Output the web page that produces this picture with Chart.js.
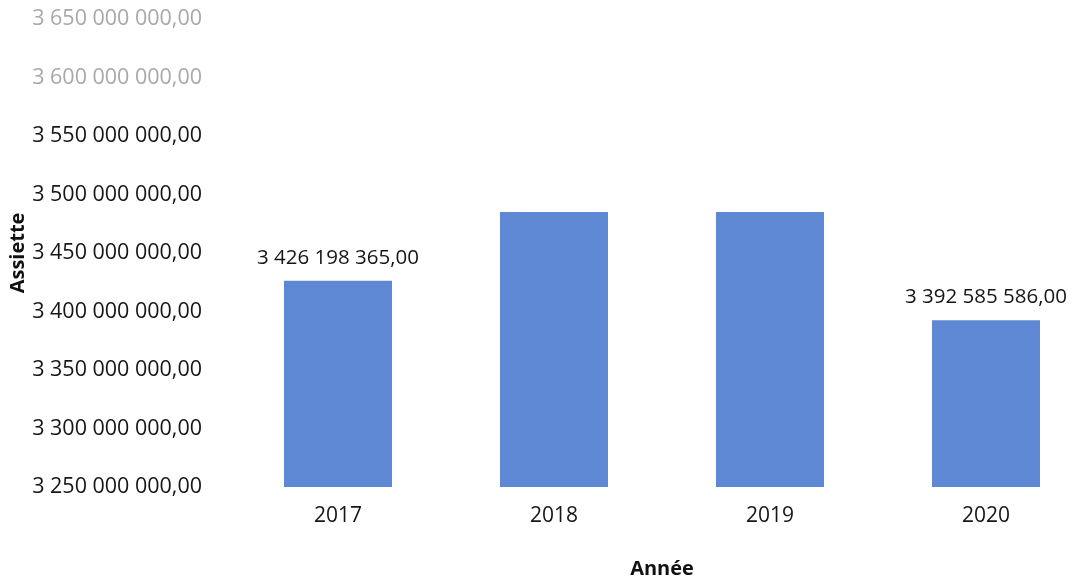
<!DOCTYPE html>
<html lang="fr">
<head>
<meta charset="utf-8">
<title>Assiette par année</title>
<script src="https://cdn.jsdelivr.net/npm/chart.js@4.4.1/dist/chart.umd.min.js"></script>
<style>
  html, body { margin: 0; padding: 0; background: #fff; overflow: hidden; }
  #wrap { width: 1094px; height: 581px; position: relative; }
</style>
</head>
<body>
<div id="wrap"><canvas id="assietteChart"></canvas></div>
<script>
// --- data ---
const annees = ['2017', '2018', '2019', '2020'];
const assiette = [3426198365, 3485000000, 3485000000, 3392585586];
// value labels printed above the bars (null = not printed)
const etiquettes = [3426198365, null, null, 3392585586];
const axeMin = 3250000000;
const axeMax = 3650000000;
const axePas = 50000000;

// 3426198365 -> "3 426 198 365,00"
function formatFr(v) {
  const parts = v.toFixed(2).split('.');
  return parts[0].replace(/\B(?=(\d{3})+(?!\d))/g, ' ') + ',' + parts[1];
}

// draws the value text centred above each bar
const valueLabels = {
  id: 'valueLabels',
  afterDatasetsDraw(chart) {
    const ctx = chart.ctx;
    const meta = chart.getDatasetMeta(0);
    ctx.save();
    ctx.font = '20.5px "Open Sans", sans-serif';
    ctx.fillStyle = '#161616';
    ctx.textAlign = 'center';
    ctx.textBaseline = 'middle';
    meta.data.forEach((bar, i) => {
      if (etiquettes[i] == null) return;
      ctx.fillText(formatFr(etiquettes[i]), bar.x, bar.y - 23);
    });
    ctx.restore();
  }
};

const ctx = document.getElementById('assietteChart').getContext('2d');
new Chart(ctx, {
  type: 'bar',
  data: {
    labels: annees,
    datasets: [{
      label: 'Assiette',
      data: assiette,
      backgroundColor: '#5f88d4',
      borderWidth: 0,
      categoryPercentage: 1,
      barPercentage: 0.5
    }]
  },
  options: {
    responsive: true,
    maintainAspectRatio: false,
    animation: false,
    layout: { padding: { top: 2, right: 0, bottom: 0, left: 0 } },
    plugins: {
      legend: { display: false },
      tooltip: { enabled: false }
    },
    scales: {
      x: {
        grid: { display: false, drawTicks: false },
        border: { display: false },
        ticks: {
          color: '#161616',
          font: { family: 'Open Sans', size: 21 },
          padding: 16
        },
        title: {
          display: true,
          text: 'Année',
          color: '#111',
          font: { family: 'Open Sans', size: 20, weight: 'bold' },
          padding: { top: 0, bottom: 0 }
        },
        afterFit(scale) { scale.height = 94; }
      },
      y: {
        min: axeMin,
        max: axeMax,
        // tick marks are hidden; their length only spaces the labels from the bars
        grid: { display: false, drawTicks: true, tickLength: 22, color: 'transparent' },
        border: { display: false },
        ticks: {
          stepSize: axePas,
          padding: 6,
          font: { family: 'Open Sans', size: 21.5 },
          color: (c) => (c.tick && c.tick.value >= 3600000000 ? '#a8a8a8' : '#161616'),
          callback: (v) => formatFr(v)
        },
        title: {
          display: true,
          text: 'Assiette',
          color: '#111',
          font: { family: 'Open Sans', size: 20, weight: 'bold' },
          padding: { top: 6, bottom: 0 }
        },
        afterFit(scale) { scale.width = 230; }
      }
    }
  },
  plugins: [valueLabels]
});
</script>
</body>
</html>
